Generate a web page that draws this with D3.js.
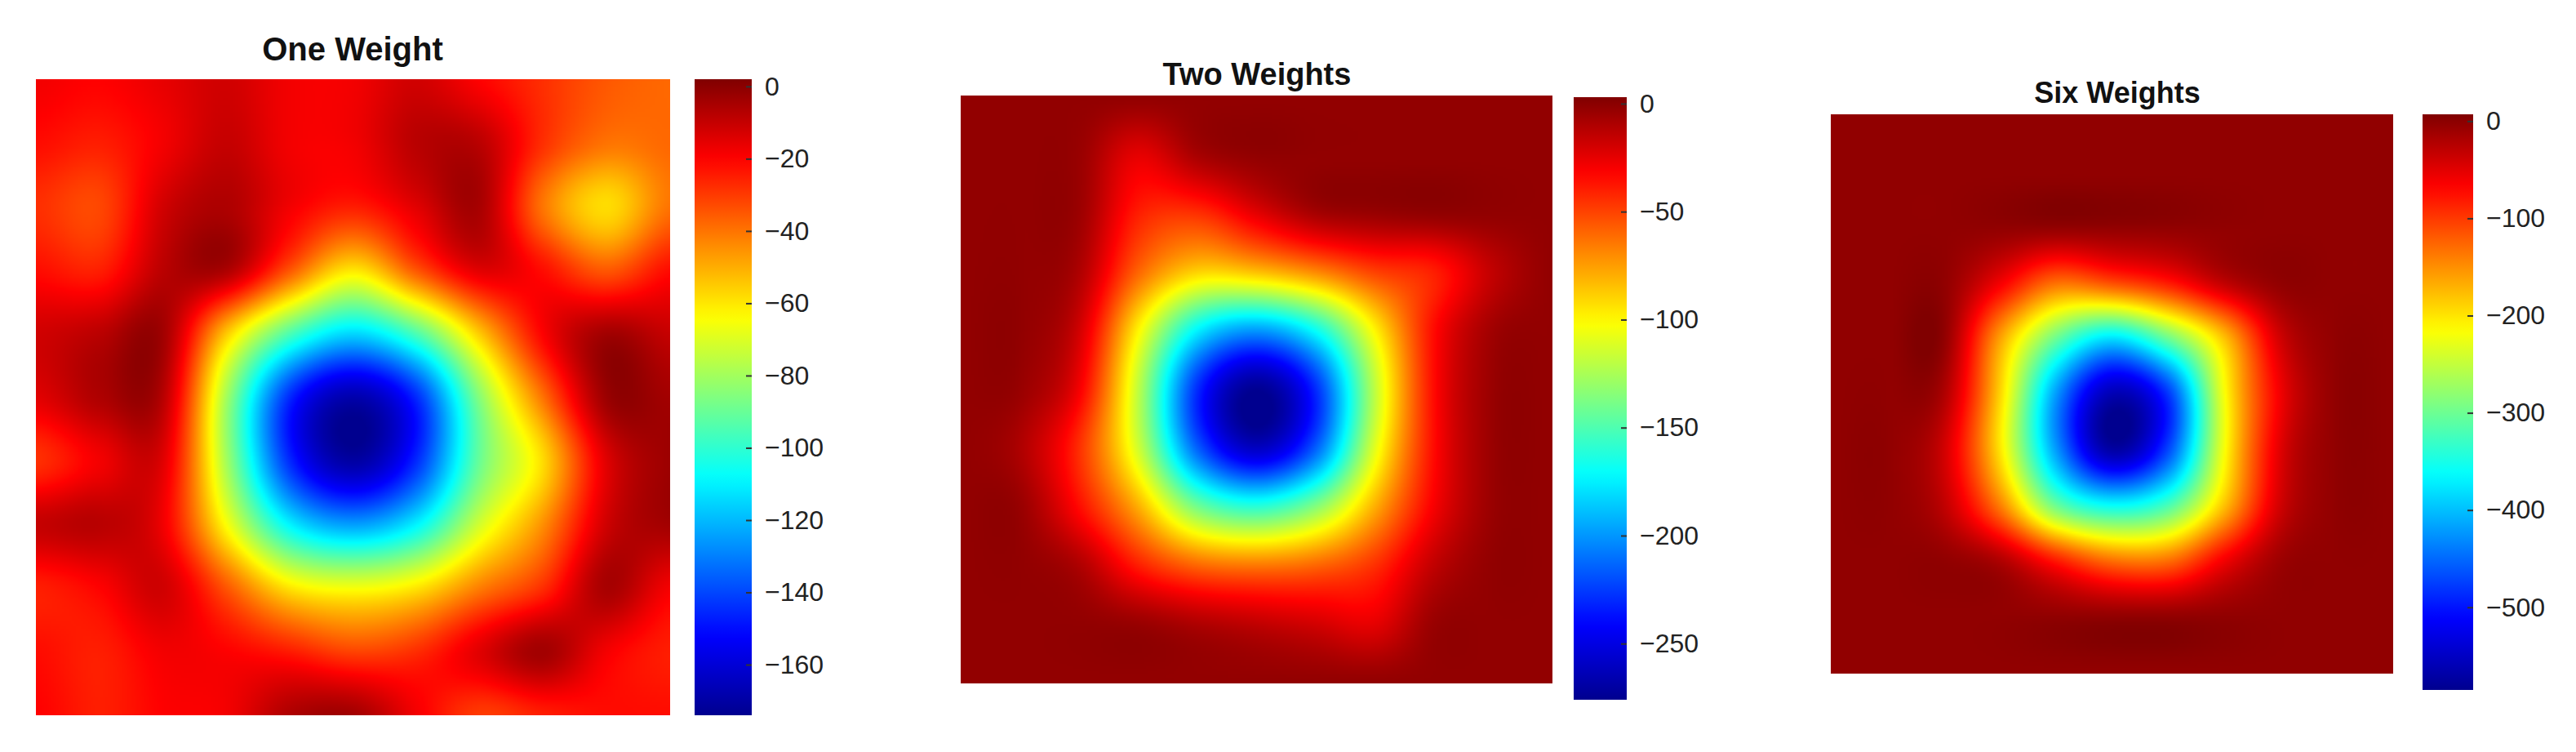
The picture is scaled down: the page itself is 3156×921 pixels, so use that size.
<!DOCTYPE html>
<html><head><meta charset="utf-8">
<script src="https://cdn.jsdelivr.net/npm/d3@7"></script>
<style>body{margin:0;background:#fff}</style></head>
<body><svg id="c" width="3156" height="921"></svg>
<script>
const titles = ["One Weight", "Two Weights", "Six Weights"];
const domains = [[-174, 2], [-276, 3], [-585, 7]];
const ticks1 = [0, -20, -40, -60, -80, -100, -120, -140, -160];
const ticks2 = [0, -50, -100, -150, -200, -250];
const ticks3 = [0, -100, -200, -300, -400, -500];
// 11x11 grids, rows top->bottom, cols left->right
const grid1 = [
 [-18,-20,-16,-12,-18,-18,-12,-20,-28,-35,-38],
 [-22,-25,-18,-10,-18,-18,-8,-8,-28,-40,-38],
 [-28,-32,-12,-6,-18,-25,-15,-5,-40,-58,-40],
 [-22,-25,-8,-6,-35,-60,-35,-15,-22,-35,-22],
 [-12,-8,-4,-55,-95,-115,-95,-55,-20,-4,-10],
 [-15,-6,-8,-80,-145,-168,-145,-85,-40,-3,-4],
 [-28,-18,-15,-80,-145,-170,-145,-90,-58,-15,-3],
 [-10,-8,-18,-65,-110,-125,-110,-72,-45,-12,-4],
 [-25,-20,-12,-35,-60,-66,-60,-42,-28,-5,-18],
 [-22,-25,-18,-20,-25,-32,-28,-15,-4,-18,-25],
 [-20,-25,-20,-18,-6,-4,-18,-30,-25,-22,-22]];
const grid2 = [
 [-2,-2,-2,-2,-2,-2,-2,-2,-2,-2,-2],
 [-2,-2,-4,-25,-8,-2,-2,-2,-2,-2,-2],
 [-2,-2,-5,-40,-45,-25,-8,-4,-2,-2,-2],
 [-2,-2,-10,-60,-90,-85,-70,-50,-40,-15,-2],
 [-2,-2,-20,-100,-175,-200,-170,-100,-35,-6,-2],
 [-2,-4,-30,-120,-230,-275,-230,-120,-35,-4,-2],
 [-2,-10,-45,-115,-215,-260,-215,-110,-35,-4,-2],
 [-2,-4,-35,-80,-140,-160,-135,-80,-30,-4,-2],
 [-2,-2,-10,-40,-60,-65,-60,-45,-15,-2,-2],
 [-2,-2,-2,-4,-10,-15,-20,-25,-4,-2,-2],
 [-2,-2,-2,-2,-2,-2,-2,-2,-2,-2,-2]];
const grid3 = [
 [-3,-3,-3,-3,-3,-3,-3,-3,-3,-3,-3],
 [-3,-3,-3,-3,-3,-3,-3,-3,-3,-3,-3],
 [-3,-3,-3,-3,-3,-3,-3,-3,-3,-3,-3],
 [-3,-3,-3,-60,-130,-110,-80,-30,-3,-3,-3],
 [-3,-3,-3,-160,-300,-380,-300,-180,-40,-3,-3],
 [-3,-3,-20,-190,-420,-560,-480,-220,-60,-3,-3],
 [-3,-3,-40,-200,-420,-570,-470,-220,-50,-3,-3],
 [-3,-3,-30,-140,-300,-360,-320,-180,-40,-3,-3],
 [-3,-3,-3,-20,-80,-130,-130,-60,-10,-3,-3],
 [-3,-3,-3,-3,-3,-3,-3,-3,-3,-3,-3],
 [-3,-3,-3,-3,-3,-3,-3,-3,-3,-3,-3]];

const layout = [
 {x:44, y:97, w:777, h:779, cbx:851, cbw:70, cby:97, cbh:779, tx:432, ty:74, fs:40},
 {x:1177, y:117, w:725, h:720, cbx:1928, cbw:65, cby:119, cbh:738, tx:1540, ty:104, fs:38},
 {x:2243, y:140, w:689, h:685, cbx:2968, cbw:62, cby:140, cbh:705, tx:2594, ty:126, fs:36}];
const grids = [grid1, grid2, grid3];
const tickSets = [ticks1, ticks2, ticks3];

const jet = d3.scaleLinear()
  .domain([0, 1/8, 3/8, 5/8, 7/8, 1])
  .range(["#00008f","#0000ff","#00ffff","#ffff00","#ff0000","#800000"])
  .clamp(true);

function cr(p0,p1,p2,p3,t){
  return 0.5*((2*p1)+(-p0+p2)*t+(2*p0-5*p1+4*p2-p3)*t*t+(-p0+3*p1-3*p2+p3)*t*t*t);
}
function sample(g, u, v){
  const n = g.length-1;
  const fx = u*n, fy = v*n;
  const ix = Math.min(Math.floor(fx), n-1), iy = Math.min(Math.floor(fy), n-1);
  const tx = fx-ix, ty = fy-iy;
  const G = (r,c)=>g[Math.max(0,Math.min(n,r))][Math.max(0,Math.min(n,c))];
  const rows = [];
  for (let k=-1;k<=2;k++) rows.push(cr(G(iy+k,ix-1),G(iy+k,ix),G(iy+k,ix+1),G(iy+k,ix+2),tx));
  return cr(rows[0],rows[1],rows[2],rows[3],ty);
}

const svg = d3.select("#c");
layout.forEach((L, i) => {
  const dom = domains[i];
  const cs = d3.scaleLinear().domain(dom).range([0,1]);
  const N = 260;
  const cv = document.createElement("canvas");
  cv.width = N; cv.height = N;
  const ctx = cv.getContext("2d");
  const img = ctx.createImageData(N, N);
  for (let y=0;y<N;y++) for (let x=0;x<N;x++){
    const v = sample(grids[i], x/(N-1), y/(N-1));
    const c = d3.rgb(jet(cs(v)));
    const k = (y*N+x)*4;
    img.data[k]=c.r; img.data[k+1]=c.g; img.data[k+2]=c.b; img.data[k+3]=255;
  }
  ctx.putImageData(img,0,0);
  svg.append("image").attr("href", cv.toDataURL())
    .attr("x", L.x).attr("y", L.y).attr("width", L.w).attr("height", L.h)
    .attr("preserveAspectRatio","none");
  svg.append("text").attr("x", L.tx).attr("y", L.ty).attr("text-anchor","middle")
    .attr("font-family","Liberation Sans, Arial, sans-serif").attr("font-weight","bold")
    .attr("font-size", L.fs).attr("fill","#111").text(titles[i]);
  const gid = "g"+i;
  const grad = svg.append("defs").append("linearGradient").attr("id",gid)
    .attr("x1",0).attr("y1",1).attr("x2",0).attr("y2",0);
  d3.range(0,1.0001,0.02).forEach(t => grad.append("stop").attr("offset",t).attr("stop-color",jet(t)));
  svg.append("rect").attr("x",L.cbx).attr("y",L.cby).attr("width",L.cbw).attr("height",L.cbh)
    .attr("fill",`url(#${gid})`);
  const ys = d3.scaleLinear().domain(dom).range([L.cby+L.cbh, L.cby]);
  const ax = svg.append("g").attr("transform",`translate(${L.cbx+L.cbw},0)`)
    .call(d3.axisRight(ys).tickValues(tickSets[i]).tickSize(-7).tickPadding(16).tickFormat(d3.format("d")));
  ax.select(".domain").remove();
  ax.selectAll(".tick line").attr("stroke","#333").attr("stroke-width",2);
  ax.selectAll("text").attr("font-family","Liberation Sans, Arial, sans-serif")
    .attr("font-size",32).attr("fill","#222");
});
</script></body></html>
